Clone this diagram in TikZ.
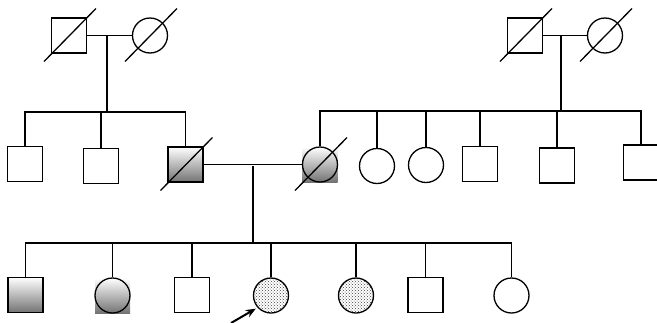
\documentclass[tikz,border=0pt]{standalone}
\usetikzlibrary{calc,patterns,arrows.meta}
\begin{document}
\begin{tikzpicture}[x=1pt,y=-1pt,line width=1.3pt,
  male/.style={draw,rectangle,minimum size=35pt,inner sep=0pt},
  female/.style={draw,circle,minimum size=35pt,inner sep=0pt},
  affected/.style={top color=white,bottom color=black!55},
  carrier/.style={pattern=crosshatch dots,pattern color=black!75},
  bgsq/.style={rectangle,minimum size=35pt,inner sep=0pt,top color=white,bottom color=black!55},
  dec/.style={line width=1.3pt}]
\useasboundingbox (0,0) rectangle (657,322);
\clip (0,0) rectangle (657,322);

% Generation I
\node[male]   (I1) at (69,35.5) {};
\node[female] (I2) at (150,35.5) {};
\node[male]   (I3) at (525,35.5) {};
\node[female] (I4) at (605,35.5) {};

% Generation II
\node[male] (II1) at (25,164) {};
\node[male] (II2) at (101,166) {};
\node[male,affected] (II3) at (185.5,164.5) {};
\node[bgsq] at (320,164.5) {};
\node[female] (II4) at (320,164.5) {};
\node[female] (II5) at (377,166) {};
\node[female] (II6) at (426,165) {};
\node[male] (II7) at (480,164) {};
\node[male] (II8) at (557,165.5) {};
\node[male] (II9) at (641,162.5) {};

% Generation III
\node[male,affected] (III1) at (25.5,295) {};
\node[bgsq] at (112.5,295.5) {};
\node[female] (III2) at (112.5,295.5) {};
\node[male] (III3) at (192,295) {};
\node[female,carrier] (III4) at (271,295.5) {};
\node[female,carrier] (III5) at (356,295.5) {};
\node[male] (III6) at (425.5,295) {};
\node[female] (III7) at (511.5,295.5) {};

% deceased marks
\foreach \n in {I1,I2,I3,I4,II3,II4}
  \draw[dec] ($(\n.center)+(-25,26)$) -- ($(\n.center)+(27,-27)$);

% marriages and descent lines
\coordinate (m1) at (107,35.5);
\coordinate (s1) at (107,112);
\draw (I1.east) -- (I2.west);
\draw (m1) -- (s1);
\draw (II1.north) |- (s1) -| (II3.north);
\draw (II2.north) -- (II2.north |- s1);

\coordinate (m2) at (561,35.5);
\coordinate (s2) at (561,111);
\draw (I3.east) -- (I4.west);
\draw (m2) -- (s2);
\draw (II4.north) |- (s2) -| (II9.north);
\foreach \n in {II5,II6,II7,II8}
  \draw (\n.north) -- (\n.north |- s2);

\coordinate (m3) at (253,166);
\coordinate (s3) at (253,243);
\draw (II3.east) -- (II4.west);
\draw (m3) -- (s3);
\draw (III1.north) |- (s3) -| (III7.north);
\foreach \n in {III2,III3,III4,III5,III6}
  \draw (\n.north) -- (\n.north |- s3);

% proband arrow
\coordinate (pa) at (231,323);
\draw[-{Stealth[length=10pt,width=8pt]},line width=2pt,shorten >=2pt] (pa) -- (III4.222);
\end{tikzpicture}
\end{document}
